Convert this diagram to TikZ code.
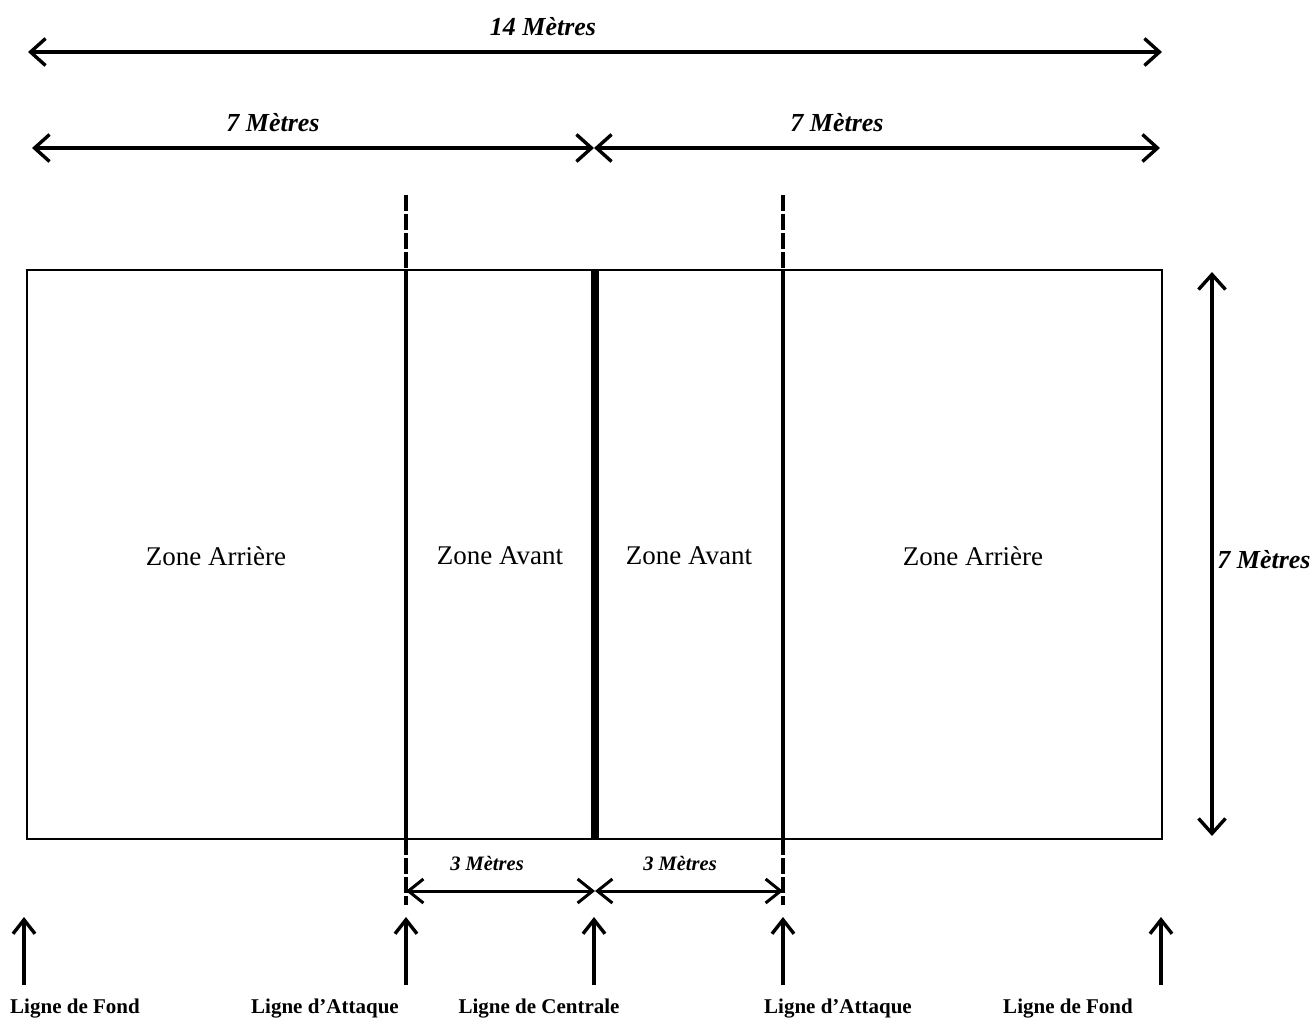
\documentclass[tikz,border=0pt]{standalone}
\usepackage{fontspec}
\setmainfont{Liberation Serif}
\usetikzlibrary{arrows.meta}
\begin{document}
\begin{tikzpicture}[x=1pt,y=-1pt,
  dimline/.style={line width=3.4pt,{Straight Barb[length=15pt,width=27pt]}-{Straight Barb[length=15pt,width=27pt]}},
  smalldim/.style={line width=3pt,{Straight Barb[length=15pt,width=24pt]}-{Straight Barb[length=15pt,width=24pt]}},
  uparrow/.style={line width=3.4pt,-{Straight Barb[length=14pt,width=22pt]}},
  courtline/.style={line width=2.8pt},
  attackline/.style={line width=4.5pt},
  centerline/.style={line width=7.5pt},
  extline/.style={line width=4.5pt,dash pattern=on 16pt off 3pt},
  dimlab/.style={font=\fontsize{26}{30}\selectfont\bfseries\itshape, inner sep=0pt},
  smalllab/.style={font=\fontsize{20.5}{24}\selectfont\bfseries\itshape, inner sep=0pt},
  zonelab/.style={font=\fontsize{27}{31}\selectfont, inner sep=0pt},
  linelab/.style={font=\fontsize{21}{25}\selectfont\bfseries, inner sep=0pt}
]
\useasboundingbox (0,0) rectangle (1315,1020);

% court
\draw[courtline] (27,270) rectangle (1162,839);
\coordinate (aLt) at (406,270); \coordinate (aLb) at (406,839);
\coordinate (aRt) at (783,270); \coordinate (aRb) at (783,839);
\coordinate (cT) at (595,270);  \coordinate (cB) at (595,839);
\draw[attackline] (aLt) -- (aLb);
\draw[attackline] (aRt) -- (aRb);
\draw[centerline] (cT) -- (cB);
% dashed extensions
\coordinate (aLtop) at (406,195); \coordinate (aRtop) at (783,195);
\coordinate (aLbot) at (406,905); \coordinate (aRbot) at (783,905);
\draw[extline] (aLtop) -- (aLt);
\draw[extline] (aRtop) -- (aRt);
\draw[extline] (aLb) -- (aLbot);
\draw[extline] (aRb) -- (aRbot);

% zone labels
\node[zonelab] (z1) at (216,556) {Zone Arrière};
\node[zonelab] (z2) at (500,556) {Zone Avant};
\node[zonelab] (z3) at (689,556) {Zone Avant};
\node[zonelab] (z4) at (973,556) {Zone Arrière};

% 14 m
\coordinate (t14L) at (28,52); \coordinate (t14R) at (1162,52);
\draw[dimline] (t14L) -- (t14R);
\node[dimlab] (l14) at (543,27) {14 Mètres};

% 7 m halves
\coordinate (s7L) at (32,148); \coordinate (s7M) at (594,148); \coordinate (s7R) at (1160,148);
\draw[dimline] (s7L) -- (s7M);
\draw[dimline] (s7M) -- (s7R);
\node[dimlab] (l7a) at (273,123) {7 Mètres};
\node[dimlab] (l7b) at (837,123) {7 Mètres};

% 7 m vertical
\coordinate (vT) at (1212,272); \coordinate (vB) at (1212,836);
\draw[dimline] (vT) -- (vB);
\node[dimlab] (l7c) at (1264,560) {7 Mètres};

% 3 m
\coordinate (m3L) at (406,891); \coordinate (m3M) at (595,891); \coordinate (m3R) at (783,891);
\draw[smalldim] (m3L) -- (m3M);
\draw[smalldim] (m3M) -- (m3R);
\node[smalllab] (l3a) at (487,863) {3 Mètres};
\node[smalllab] (l3b) at (680,863) {3 Mètres};

% bottom arrows
\foreach \n/\x in {b1/24,b2/406,b3/594,b4/783,b5/1161}{
  \coordinate (\n s) at (\x,985);
  \coordinate (\n e) at (\x,917);
  \draw[uparrow] (\n s) -- (\n e);
}
\node[linelab] (n1) at (75,1009) {Ligne de Fond};
\node[linelab] (n2) at (325,1009) {Ligne d’Attaque};
\node[linelab] (n3) at (539,1009) {Ligne de Centrale};
\node[linelab] (n4) at (838,1009) {Ligne d’Attaque};
\node[linelab] (n5) at (1068,1009) {Ligne de Fond};
\end{tikzpicture}
\end{document}
